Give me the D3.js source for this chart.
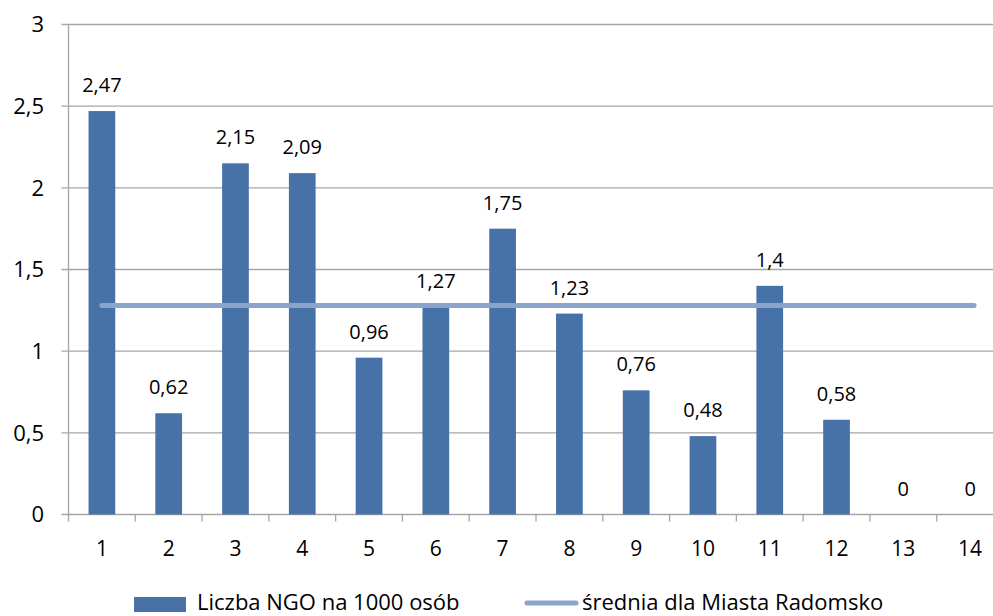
<!DOCTYPE html>
<html><head><meta charset="utf-8">
<script src="https://cdn.jsdelivr.net/npm/d3@7"></script>
<style>body{margin:0;background:#fff}svg{display:block}text{font-family:"Open Sans",sans-serif;fill:#000}</style>
</head><body><svg id="c" width="993" height="616"></svg>
<script>
const categories = ["1","2","3","4","5","6","7","8","9","10","11","12","13","14"];
const values = [2.47,0.62,2.15,2.09,0.96,1.27,1.75,1.23,0.76,0.48,1.4,0.58,0,0];
const average = 1.28;
const yTicks = [0,0.5,1,1.5,2,2.5,3];
const seriesNames = ["Liczba NGO na 1000 osób","średnia dla Miasta Radomsko"];

const svg = d3.select("#c");
const pL = 68.5, pR = 1003.5, pT = 24.5, pB = 514.5;
const x = d3.scaleBand().domain(categories).range([pL, pR]).paddingInner(0.6).paddingOuter(0.3);
const xb = d3.scaleBand().domain(categories).range([pL, pR]);
const y = d3.scaleLinear().domain([0,3]).range([pB, pT]);
const fmt = v => String(v).replace(".", ",");

// gridlines
svg.append("g").selectAll("line").data(yTicks).join("line")
  .attr("x1", pL-7).attr("x2", 993).attr("y1", d=>y(d)).attr("y2", d=>y(d))
  .attr("stroke", "#a6a6a6").attr("stroke-width", 1.3);
svg.append("g").selectAll("text").data(yTicks).join("text")
  .attr("x", 44).attr("y", d=>y(d)).attr("dy","0.35em").attr("text-anchor","end")
  .attr("font-size", 22).text(fmt);

// x ticks
svg.append("g").selectAll("line").data(categories.concat(["end"])).join("line")
  .attr("x1", (d,i)=>pL + i*xb.bandwidth()).attr("x2",(d,i)=>pL + i*xb.bandwidth())
  .attr("y1", pB).attr("y2", pB+7).attr("stroke","#a6a6a6").attr("stroke-width",1.3);
svg.append("g").selectAll("text").data(categories).join("text")
  .attr("x", d=>xb(d)+xb.bandwidth()/2).attr("y", 549).attr("dy","0.35em").attr("text-anchor","middle")
  .attr("font-size", 21).text(d=>d);
// y axis line
svg.append("line").attr("x1",pL).attr("x2",pL).attr("y1",pT).attr("y2",pB).attr("stroke","#a6a6a6").attr("stroke-width",1.3);

// bars
svg.append("g").selectAll("rect").data(values).join("rect")
  .attr("x",(d,i)=>x(categories[i])).attr("width",x.bandwidth())
  .attr("y",d=>y(d)).attr("height",d=>pB-y(d)).attr("fill","#4672a8");
// labels
svg.append("g").selectAll("text").data(values).join("text")
  .attr("x",(d,i)=>xb(categories[i])+xb.bandwidth()/2).attr("y",d=>y(d)-26).attr("dy","0.35em")
  .attr("text-anchor","middle").attr("font-size",20).text(fmt);

// average line
const c1 = xb(categories[0])+xb.bandwidth()/2, c14 = xb(categories[13])+xb.bandwidth()/2;
svg.append("line").attr("x1",c1).attr("x2",c14+4).attr("y1",y(average)).attr("y2",y(average))
  .attr("stroke","#8aa4cb").attr("stroke-width",5).attr("stroke-linecap","round");

// legend
svg.append("rect").attr("x",134).attr("y",597).attr("width",52).attr("height",15).attr("fill","#4672a8");
svg.append("text").attr("x",197).attr("y",610).attr("font-size",22).text(seriesNames[0]);
svg.append("line").attr("x1",527).attr("x2",576).attr("y1",603).attr("y2",603)
  .attr("stroke","#8aa4cb").attr("stroke-width",5).attr("stroke-linecap","round");
svg.append("text").attr("x",582).attr("y",610).attr("font-size",22).text(seriesNames[1]);
</script></body></html>
